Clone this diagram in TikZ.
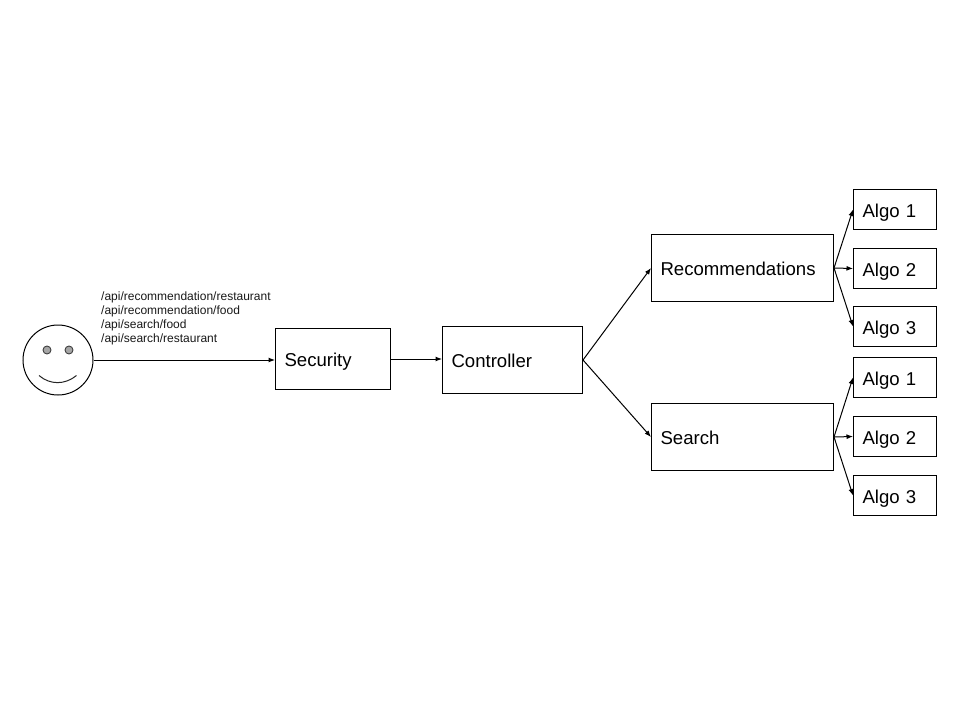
\documentclass[tikz,border=0pt]{standalone}
\usepackage{fontspec}
\setmainfont{Liberation Sans}
\usetikzlibrary{arrows.meta}
\tikzset{
  x=1pt,y=-1pt,
  boxnode/.style={draw=black,line width=1pt,fill=white,anchor=north west,inner xsep=9pt,inner ysep=0pt,align=left,text height=16pt,text depth=1pt,font=\fontsize{18.6}{21}\selectfont},
  conn/.style={draw=black,line width=1pt,-{Latex[length=6.5pt,width=5pt]}},
  eye/.style={circle,draw=black!75,fill=black!35,line width=0.9pt,minimum size=8pt,inner sep=0pt},
  routes/.style={anchor=north west,inner sep=0pt,align=left,text=black!90,font=\fontsize{12}{14}\selectfont}
}
\newcommand{\bx}[6]{\node[boxnode,minimum width=#4pt,minimum height=#5pt,text width=#6pt] (#1) at #2 {#3};}
\begin{document}
\begin{tikzpicture}
\useasboundingbox (0,0) rectangle (960,720);
\fill[white] (0,0) rectangle (960,720);
\node[circle,draw=black,line width=1pt,minimum size=70pt,inner sep=0pt] (face) at (58,360) {};
\node[eye] (eyeL) at (47,350) {};
\node[eye] (eyeR) at (69,350) {};
\coordinate (smileL) at (39,375.5);
\coordinate (smileR) at (76.5,375.5);
\draw[line width=1pt,black!85] (smileL) .. controls (50,385) and (65,385) .. (smileR);
\node[routes] (routes) at (101,292) {/api/recommendation/restaurant\\/api/recommendation/food\\/api/search/food\\/api/search/restaurant};
\bx{sec}{(275,328)}{Security}{115}{61}{97}
\bx{ctl}{(442,326)}{Controller}{140}{67}{122}
\bx{rec}{(651,234)}{Recommendations}{182}{67}{164}
\bx{sea}{(651,403)}{Search}{182}{67}{164}
\bx{aa}{(853,189)}{Algo 1}{83}{40}{65}
\bx{ab}{(853,248)}{Algo 2}{83}{40}{65}
\bx{ac}{(853,306)}{Algo 3}{83}{40}{65}
\bx{ba}{(853,357)}{Algo 1}{83}{40}{65}
\bx{bb}{(853,416)}{Algo 2}{83}{40}{65}
\bx{bc}{(853,475)}{Algo 3}{83}{40}{65}
\draw[conn] (face.east) -- (face.east -| sec.west);
\draw[conn] (sec.east) -- (sec.east -| ctl.west);
\draw[conn] (ctl.east) -- (rec.west);
\draw[conn] (ctl.east) -- (sea.west);
\draw[conn] (rec.east) -- (aa.west);
\draw[conn] (rec.east) -- (ab.west);
\draw[conn] (rec.east) -- (ac.west);
\draw[conn] (sea.east) -- (ba.west);
\draw[conn] (sea.east) -- (bb.west);
\draw[conn] (sea.east) -- (bc.west);
\end{tikzpicture}
\end{document}
